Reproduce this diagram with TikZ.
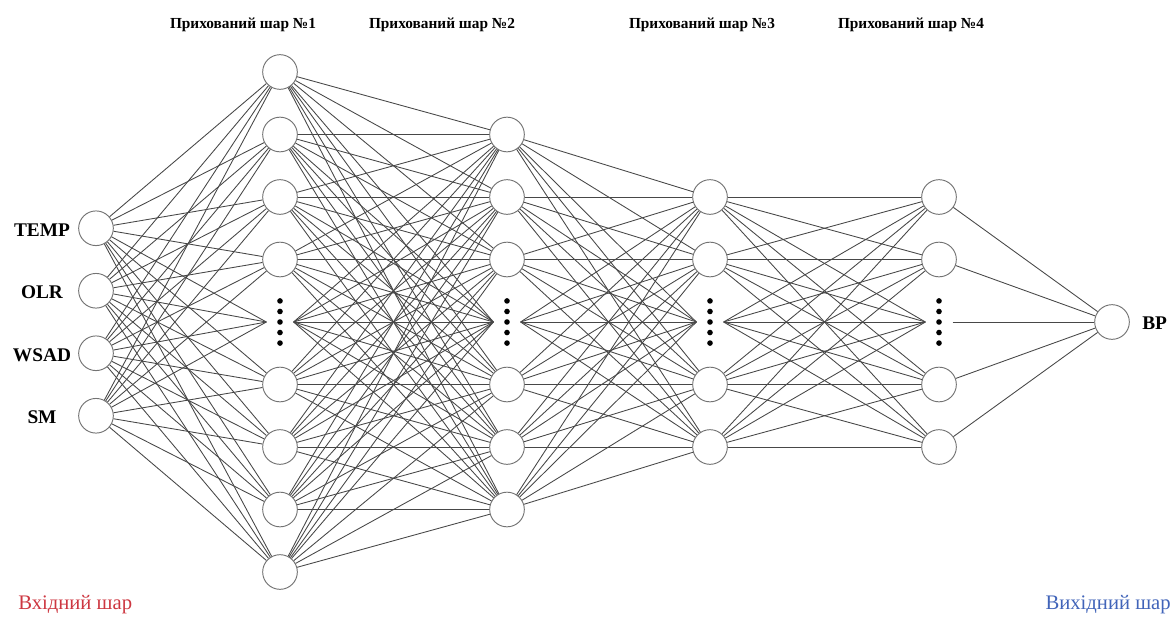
\documentclass[tikz,border=0pt]{standalone}
\usepackage{fontspec}
\setmainfont{Liberation Serif}
\usepackage{tikz}
\usetikzlibrary{positioning}
\definecolor{inred}{RGB}{205,55,65}
\definecolor{outblue}{RGB}{65,100,185}

\begin{document}
\begin{tikzpicture}[x=0.75pt,y=-0.75pt,
   neuron/.style={circle,draw=black!55,fill=white,line width=0.7pt,minimum size=26pt,inner sep=0pt},
   dots/.style={minimum width=20pt,minimum height=40pt,inner sep=0pt,
      path picture={\foreach \k in {-2,...,2} \fill (path picture bounding box.center) ++(0,\k*7.9pt) circle (2.1pt);}},
   link/.style={draw=black!72,line width=0.65pt},
   layer/.style={font=\fontsize{11.5}{14}\selectfont\bfseries,anchor=base,inner sep=0pt},
   feature/.style={font=\fontsize{14.5}{17}\selectfont\bfseries,inner sep=0pt},
   side/.style={font=\fontsize{15.5}{18}\selectfont,inner sep=0pt}]
   \useasboundingbox (0,0) rectangle (1173,617);

   \foreach \n/\y/\t in {1/228.25/TEMP,2/290.75/OLR,3/353.25/WSAD,4/415.75/SM}{
      \node[neuron] (in-\n) at (96,\y) {};
      \node[feature] (lbl-\n) at (42,\y+1.5) {\t};
   }
   \foreach \k in {1,...,9}{
      \ifnum\k=5 \node[dots] (a-\k) at (280,{9.5+62.5*\k}) {};
      \else \node[neuron] (a-\k) at (280,{9.5+62.5*\k}) {}; \fi
   }
   \foreach \k in {1,...,7}{
      \ifnum\k=4 \node[dots] (b-\k) at (507,{72+62.5*\k}) {};
      \else \node[neuron] (b-\k) at (507,{72+62.5*\k}) {}; \fi
   }
   \foreach \k in {1,...,5}{
      \ifnum\k=3 \node[dots] (c-\k) at (710,{134.5+62.5*\k}) {};
      \node[dots] (d-\k) at (939,{134.5+62.5*\k}) {};
      \else \node[neuron] (c-\k) at (710,{134.5+62.5*\k}) {};
      \node[neuron] (d-\k) at (939,{134.5+62.5*\k}) {}; \fi
   }
   \node[neuron] (out) at (1112,322) {};

   \node[layer] (t-1) at (243,29) {Прихований шар №1};
   \node[layer] (t-2) at (442,29) {Прихований шар №2};
   \node[layer] (t-3) at (702,29) {Прихований шар №3};
   \node[layer] (t-4) at (911,29) {Прихований шар №4};
   \node[feature,anchor=base west] (bp) at (1142,329) {BP};
   \node[side,text=inred,anchor=base west] (inlayer) at (18,609) {Вхідний шар};
   \node[side,text=outblue,anchor=base east] (outlayer) at (1171,609) {Вихідний шар};

   \foreach \s in {in-1,in-2,in-3,in-4}
      \foreach \t in {a-1,a-2,a-3,a-4,a-5.west,a-6,a-7,a-8,a-9}
         \draw[link] (\s) -- (\t);
   \foreach \s in {a-1,a-2,a-3,a-4,a-5.east,a-6,a-7,a-8,a-9}
      \foreach \t in {b-1,b-2,b-3,b-4.west,b-5,b-6,b-7}
         \draw[link] (\s) -- (\t);
   \foreach \s in {b-1,b-2,b-3,b-4.east,b-5,b-6,b-7}
      \foreach \t in {c-1,c-2,c-3.west,c-4,c-5}
         \draw[link] (\s) -- (\t);
   \foreach \s in {c-1,c-2,c-3.east,c-4,c-5}
      \foreach \t in {d-1,d-2,d-3.west,d-4,d-5}
         \draw[link] (\s) -- (\t);
   \foreach \s in {d-1,d-2,d-3.east,d-4,d-5}
      \draw[link] (\s) -- (out);
\end{tikzpicture}
\end{document}
